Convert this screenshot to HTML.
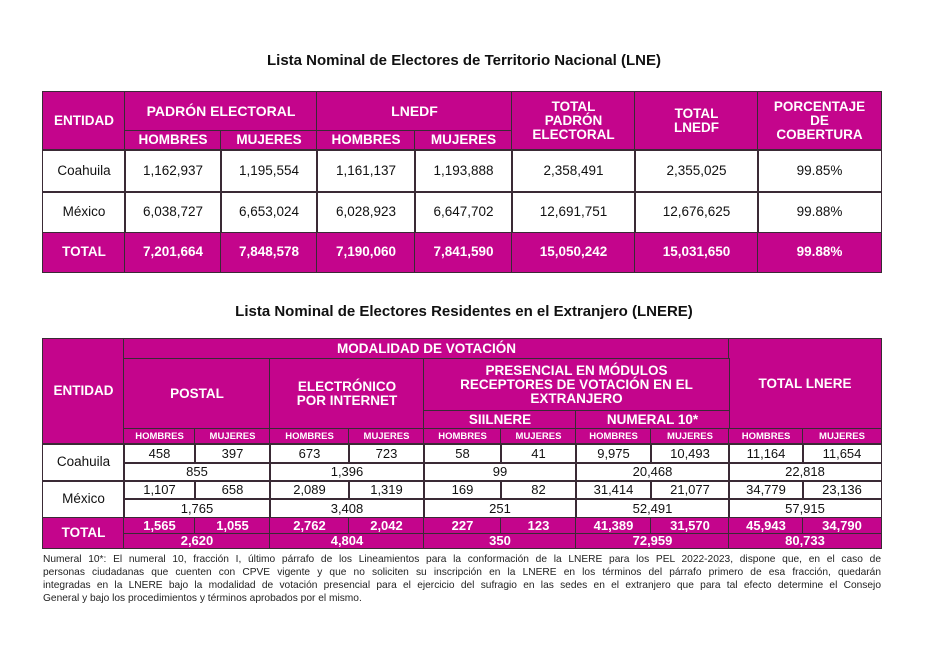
<!DOCTYPE html>
<html><head><meta charset="utf-8"><style>
body{margin:0;width:928px;height:648px;background:#fff;position:relative;overflow:hidden;font-family:"Liberation Sans",Arial,sans-serif;}
.c{position:absolute;box-sizing:border-box;border:1.5px solid #3a2a35;display:flex;align-items:center;justify-content:center;text-align:center;color:#111;font-size:13.5px;line-height:1.05;}
.m{background:#c4058c;color:#fff;font-weight:bold;}
.s{font-size:9.5px;}
.d{font-size:13px;}
.t{position:absolute;font-weight:bold;font-size:15px;color:#111;width:928px;text-align:center;}
.fl{position:absolute;left:43px;width:838px;font-size:10.2px;line-height:13px;text-align:justify;text-align-last:justify;color:#222;white-space:nowrap;}
</style></head><body>
<div class="t" style="top:52px;left:0">Lista Nominal de Electores de Territorio Nacional (LNE)</div>
<!-- Table 1 -->
<div class="c m" style="left:42px;top:91px;width:84px;height:60px">ENTIDAD</div>
<div class="c m" style="left:124px;top:91px;width:194px;height:41px;font-size:14px">PADRÓN ELECTORAL</div>
<div class="c m" style="left:316px;top:91px;width:197px;height:41px;font-size:14px">LNEDF</div>
<div class="c m" style="left:124px;top:130px;width:98px;height:21px">HOMBRES</div>
<div class="c m" style="left:220px;top:130px;width:98px;height:21px">MUJERES</div>
<div class="c m" style="left:316px;top:130px;width:100px;height:21px">HOMBRES</div>
<div class="c m" style="left:414px;top:130px;width:99px;height:21px">MUJERES</div>
<div class="c m" style="left:511px;top:91px;width:125px;height:60px">TOTAL<br>PADRÓN<br>ELECTORAL</div>
<div class="c m" style="left:634px;top:91px;width:125px;height:60px">TOTAL<br>LNEDF</div>
<div class="c m" style="left:757px;top:91px;width:125px;height:60px">PORCENTAJE<br>DE<br>COBERTURA</div>

<div class="c" style="left:42px;top:149px;width:84px;height:44px">Coahuila</div>
<div class="c" style="left:124px;top:149px;width:98px;height:44px">1,162,937</div>
<div class="c" style="left:220px;top:149px;width:98px;height:44px">1,195,554</div>
<div class="c" style="left:316px;top:149px;width:100px;height:44px">1,161,137</div>
<div class="c" style="left:414px;top:149px;width:99px;height:44px">1,193,888</div>
<div class="c" style="left:511px;top:149px;width:125px;height:44px">2,358,491</div>
<div class="c" style="left:634px;top:149px;width:125px;height:44px">2,355,025</div>
<div class="c" style="left:757px;top:149px;width:125px;height:44px">99.85%</div>

<div class="c" style="left:42px;top:191px;width:84px;height:43px">México</div>
<div class="c" style="left:124px;top:191px;width:98px;height:43px">6,038,727</div>
<div class="c" style="left:220px;top:191px;width:98px;height:43px">6,653,024</div>
<div class="c" style="left:316px;top:191px;width:100px;height:43px">6,028,923</div>
<div class="c" style="left:414px;top:191px;width:99px;height:43px">6,647,702</div>
<div class="c" style="left:511px;top:191px;width:125px;height:43px">12,691,751</div>
<div class="c" style="left:634px;top:191px;width:125px;height:43px">12,676,625</div>
<div class="c" style="left:757px;top:191px;width:125px;height:43px">99.88%</div>

<div class="c m" style="left:42px;top:232px;width:84px;height:41px">TOTAL</div>
<div class="c m" style="left:124px;top:232px;width:98px;height:41px">7,201,664</div>
<div class="c m" style="left:220px;top:232px;width:98px;height:41px">7,848,578</div>
<div class="c m" style="left:316px;top:232px;width:100px;height:41px">7,190,060</div>
<div class="c m" style="left:414px;top:232px;width:99px;height:41px">7,841,590</div>
<div class="c m" style="left:511px;top:232px;width:125px;height:41px">15,050,242</div>
<div class="c m" style="left:634px;top:232px;width:125px;height:41px">15,031,650</div>
<div class="c m" style="left:757px;top:232px;width:125px;height:41px">99.88%</div>

<div class="t" style="top:303px;left:0">Lista Nominal de Electores Residentes en el Extranjero (LNERE)</div>
<!-- Table 2 -->
<div class="c m" style="left:42px;top:338px;width:83px;height:107px">ENTIDAD</div>
<div class="c m" style="left:123px;top:338px;width:607px;height:22px">MODALIDAD DE VOTACIÓN</div>
<div class="c m" style="left:728px;top:338px;width:154px;height:92px">TOTAL LNERE</div>
<div class="c m" style="left:123px;top:358px;width:148px;height:72px">POSTAL</div>
<div class="c m" style="left:269px;top:358px;width:156px;height:72px">ELECTRÓNICO<br>POR INTERNET</div>
<div class="c m" style="left:423px;top:358px;width:307px;height:54px">PRESENCIAL EN MÓDULOS<br>RECEPTORES DE VOTACIÓN EN EL<br>EXTRANJERO</div>
<div class="c m" style="left:423px;top:410px;width:154px;height:20px">SIILNERE</div>
<div class="c m" style="left:575px;top:410px;width:155px;height:20px">NUMERAL 10*</div>

<div class="c m s" style="left:123px;top:428px;width:73px;height:17px">HOMBRES</div>
<div class="c m s" style="left:194px;top:428px;width:77px;height:17px">MUJERES</div>
<div class="c m s" style="left:269px;top:428px;width:81px;height:17px">HOMBRES</div>
<div class="c m s" style="left:348px;top:428px;width:77px;height:17px">MUJERES</div>
<div class="c m s" style="left:423px;top:428px;width:79px;height:17px">HOMBRES</div>
<div class="c m s" style="left:500px;top:428px;width:77px;height:17px">MUJERES</div>
<div class="c m s" style="left:575px;top:428px;width:77px;height:17px">HOMBRES</div>
<div class="c m s" style="left:650px;top:428px;width:80px;height:17px">MUJERES</div>
<div class="c m s" style="left:728px;top:428px;width:76px;height:17px">HOMBRES</div>
<div class="c m s" style="left:802px;top:428px;width:80px;height:17px">MUJERES</div>

<div class="c" style="left:42px;top:443px;width:83px;height:39px">Coahuila</div>
<div class="c d" style="left:123px;top:443px;width:73px;height:21px">458</div>
<div class="c d" style="left:194px;top:443px;width:77px;height:21px">397</div>
<div class="c d" style="left:269px;top:443px;width:81px;height:21px">673</div>
<div class="c d" style="left:348px;top:443px;width:77px;height:21px">723</div>
<div class="c d" style="left:423px;top:443px;width:79px;height:21px">58</div>
<div class="c d" style="left:500px;top:443px;width:77px;height:21px">41</div>
<div class="c d" style="left:575px;top:443px;width:77px;height:21px">9,975</div>
<div class="c d" style="left:650px;top:443px;width:80px;height:21px">10,493</div>
<div class="c d" style="left:728px;top:443px;width:76px;height:21px">11,164</div>
<div class="c d" style="left:802px;top:443px;width:80px;height:21px">11,654</div>
<div class="c d" style="left:123px;top:462px;width:148px;height:20px">855</div>
<div class="c d" style="left:269px;top:462px;width:156px;height:20px">1,396</div>
<div class="c d" style="left:423px;top:462px;width:154px;height:20px">99</div>
<div class="c d" style="left:575px;top:462px;width:155px;height:20px">20,468</div>
<div class="c d" style="left:728px;top:462px;width:154px;height:20px">22,818</div>

<div class="c" style="left:42px;top:480px;width:83px;height:39px">México</div>
<div class="c d" style="left:123px;top:480px;width:73px;height:20px">1,107</div>
<div class="c d" style="left:194px;top:480px;width:77px;height:20px">658</div>
<div class="c d" style="left:269px;top:480px;width:81px;height:20px">2,089</div>
<div class="c d" style="left:348px;top:480px;width:77px;height:20px">1,319</div>
<div class="c d" style="left:423px;top:480px;width:79px;height:20px">169</div>
<div class="c d" style="left:500px;top:480px;width:77px;height:20px">82</div>
<div class="c d" style="left:575px;top:480px;width:77px;height:20px">31,414</div>
<div class="c d" style="left:650px;top:480px;width:80px;height:20px">21,077</div>
<div class="c d" style="left:728px;top:480px;width:76px;height:20px">34,779</div>
<div class="c d" style="left:802px;top:480px;width:80px;height:20px">23,136</div>
<div class="c d" style="left:123px;top:498px;width:148px;height:21px">1,765</div>
<div class="c d" style="left:269px;top:498px;width:156px;height:21px">3,408</div>
<div class="c d" style="left:423px;top:498px;width:154px;height:21px">251</div>
<div class="c d" style="left:575px;top:498px;width:155px;height:21px">52,491</div>
<div class="c d" style="left:728px;top:498px;width:154px;height:21px">57,915</div>

<div class="c m" style="left:42px;top:517px;width:83px;height:32px">TOTAL</div>
<div class="c m d" style="left:123px;top:517px;width:73px;height:18px">1,565</div>
<div class="c m d" style="left:194px;top:517px;width:77px;height:18px">1,055</div>
<div class="c m d" style="left:269px;top:517px;width:81px;height:18px">2,762</div>
<div class="c m d" style="left:348px;top:517px;width:77px;height:18px">2,042</div>
<div class="c m d" style="left:423px;top:517px;width:79px;height:18px">227</div>
<div class="c m d" style="left:500px;top:517px;width:77px;height:18px">123</div>
<div class="c m d" style="left:575px;top:517px;width:77px;height:18px">41,389</div>
<div class="c m d" style="left:650px;top:517px;width:80px;height:18px">31,570</div>
<div class="c m d" style="left:728px;top:517px;width:76px;height:18px">45,943</div>
<div class="c m d" style="left:802px;top:517px;width:80px;height:18px">34,790</div>
<div class="c m d" style="left:123px;top:533px;width:148px;height:16px">2,620</div>
<div class="c m d" style="left:269px;top:533px;width:156px;height:16px">4,804</div>
<div class="c m d" style="left:423px;top:533px;width:154px;height:16px">350</div>
<div class="c m d" style="left:575px;top:533px;width:155px;height:16px">72,959</div>
<div class="c m d" style="left:728px;top:533px;width:154px;height:16px">80,733</div>

<div class="fl" style="top:553px">Numeral 10*: El numeral 10, fracción I, último párrafo de los Lineamientos para la conformación de la LNERE para los PEL 2022-2023, dispone que, en el caso de</div>
<div class="fl" style="top:566px">personas ciudadanas que cuenten con CPVE vigente y que no soliciten su inscripción en la LNERE en los términos del párrafo primero de esa fracción, quedarán</div>
<div class="fl" style="top:579px">integradas en la LNERE bajo la modalidad de votación presencial para el ejercicio del sufragio en las sedes en el extranjero que para tal efecto determine el Consejo</div>
<div class="fl" style="top:592px;text-align-last:left">General y bajo los procedimientos y términos aprobados por el mismo.</div>
</body></html>
